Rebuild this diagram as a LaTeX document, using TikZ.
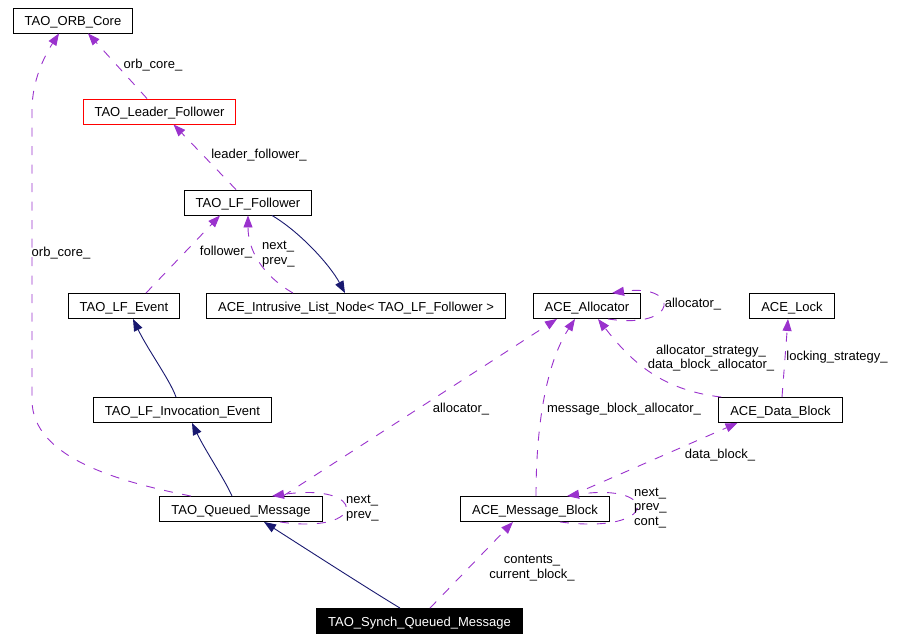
\documentclass[tikz,border=0pt]{standalone}
\usepackage{fontspec}
\setmainfont{Liberation Sans}
\usetikzlibrary{arrows.meta}
\definecolor{usecol}{HTML}{9A32CD}
\definecolor{inhcol}{HTML}{191970}
\begin{document}
\begin{tikzpicture}[x=1pt,y=-1pt,
	   font=\fontsize{13}{14.5}\selectfont,
	   cls/.style={draw=black,line width=0.9pt,fill=white,inner xsep=11.5pt,inner ysep=0pt,minimum height=25pt,text height=12pt,text depth=2pt},
	   uses/.style={draw=usecol,line width=0.9pt,dash pattern=on 9pt off 9.5pt,-{Triangle[length=12pt,width=9pt,fill=usecol]}},
	   inh/.style={draw=inhcol,line width=0.9pt,-{Triangle[length=12pt,width=9pt,fill=inhcol]}},
	   lbl/.style={inner sep=0pt,align=center}]
	   \useasboundingbox (0,0) rectangle (901,640);
	   % classes
	   \node [cls] (orbcore) at (73,20.5) {TAO\_ORB\_Core};
	   \node [cls,draw=red] (leader) at (159.5,111.5) {TAO\_Leader\_Follower};
	   \node [cls] (follower) at (248,202.5) {TAO\_LF\_Follower};
	   \node [cls] (lfevent) at (124,306) {TAO\_LF\_Event};
	   \node [cls] (listnode) at (356,306) {ACE\_Intrusive\_List\_Node< TAO\_LF\_Follower >};
	   \node [cls] (alloc) at (587,306) {ACE\_Allocator};
	   \node [cls] (lock) at (792,306) {ACE\_Lock};
	   \node [cls] (invoc) at (182.5,410) {TAO\_LF\_Invocation\_Event};
	   \node [cls] (datablk) at (780.5,410) {ACE\_Data\_Block};
	   \node [cls] (queued) at (241,509) {TAO\_Queued\_Message};
	   \node [cls] (msgblk) at (535,509) {ACE\_Message\_Block};
	   \node [cls,fill=black,text=white] (synch) at (419.5,621) {TAO\_Synch\_Queued\_Message};
	   % inheritance
	   \draw [inh] ([xshift=24pt]follower.south) .. controls (300,232) and (330,265) .. ([xshift=-11pt]listnode.north);
	   \draw [inh] ([xshift=-6.5pt]invoc.north) .. controls (170,380) and (148,350) .. ([xshift=9pt]lfevent.south);
	   \draw [inh] ([xshift=-9pt]queued.north) .. controls (225,480) and (205,450) .. ([xshift=9.5pt]invoc.south);
	   \draw [inh] ([xshift=-19.5pt]synch.north) .. controls (370,590) and (300,545) .. ([xshift=23pt]queued.south);
	   % members
	   \draw [uses] ([xshift=-12.5pt]leader.north) -- ([xshift=15pt]orbcore.south);
	   \draw [uses] ([xshift=-12pt]follower.north) -- ([xshift=14pt]leader.south);
	   \draw [uses] ([xshift=22pt]lfevent.north) -- ([xshift=-28pt]follower.south);
	   \draw [uses] ([xshift=-63pt]listnode.north) .. controls (262,275) and (248,250) .. (follower.south);
	   \draw [uses] ([xshift=-50pt]queued.north) .. controls (120,482) and (32,458) .. (32,400) -- (32,110) .. controls (32,80) and (45,55) .. ([xshift=-14pt]orbcore.south);
	   \draw [uses] ([xshift=10.5pt]synch.north) -- ([xshift=-22pt]msgblk.south);
	   \draw [uses] ([xshift=39pt]queued.south) .. controls (368,535) and (368,482) .. ([xshift=31pt]queued.north);
	   \draw [uses] ([xshift=42pt]queued.north) -- ([xshift=-30pt]alloc.south);
	   \draw [uses] ([xshift=1pt]msgblk.north) .. controls (536,430) and (545,365) .. ([xshift=-12pt]alloc.south);
	   \draw [uses] ([xshift=3pt]datablk.north west) .. controls (660,390) and (630,360) .. ([xshift=11pt]alloc.south);
	   \draw [uses] ([xshift=1.5pt]datablk.north) -- ([xshift=-4pt]lock.south);
	   \draw [uses] ([xshift=35pt]msgblk.north) -- ([xshift=-43pt]datablk.south);
	   \draw [uses] ([xshift=25pt]msgblk.south) .. controls (660,535) and (660,482) .. ([xshift=32pt]msgblk.north);
	   \draw [uses] ([xshift=21pt]alloc.south) .. controls (680,330) and (680,283) .. ([xshift=25pt]alloc.north);
	   % labels
	   \node [lbl] (lorb) at (153,65) {orb\_core\_};
	   \node [lbl] (lleader) at (259,155) {leader\_follower\_};
	   \node [lbl] (lfollow) at (226,252) {follower\_};
	   \node [lbl,align=left,anchor=west] (lnext) at (262,254) {next\_\\prev\_};
	   \node [lbl] (lorbleft) at (61,253) {orb\_core\_};
	   \node [lbl] (lalloc) at (461,409) {allocator\_};
	   \node [lbl] (lmsgalloc) at (624,409) {message\_block\_allocator\_};
	   \node [lbl] (lstrat) at (711,358) {allocator\_strategy\_\\data\_block\_allocator\_};
	   \node [lbl] (llock) at (837,357) {locking\_strategy\_};
	   \node [lbl] (lself) at (693,304) {allocator\_};
	   \node [lbl] (ldata) at (720,455) {data\_block\_};
	   \node [lbl,align=left,anchor=west] (lqnext) at (346,508) {next\_\\prev\_};
	   \node [lbl,align=left,anchor=west] (lmnext) at (634,508) {next\_\\prev\_\\cont\_};
	   \node [lbl] (lcont) at (532,568) {contents\_\\current\_block\_};
\end{tikzpicture}
\end{document}
